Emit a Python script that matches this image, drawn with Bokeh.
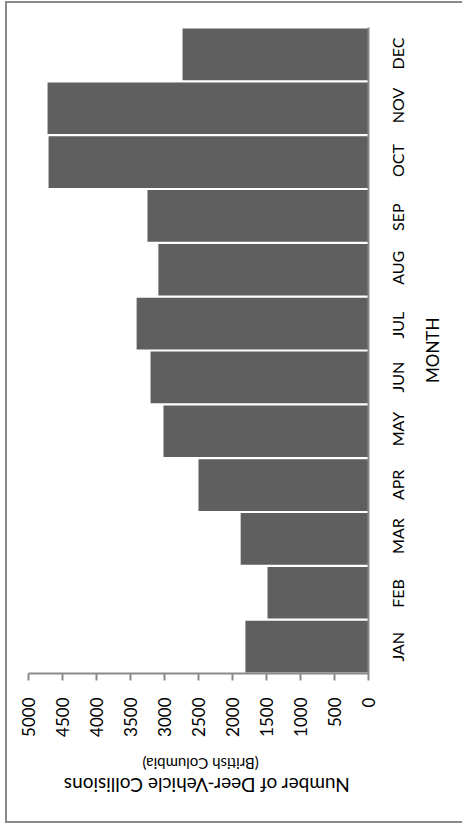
import math
from bokeh.plotting import figure
from bokeh.models import Range1d, FixedTicker, LinearAxis, ColumnDataSource
from bokeh.embed import file_html
from bokeh.resources import INLINE

months = ["JAN", "FEB", "MAR", "APR", "MAY", "JUN", "JUL", "AUG", "SEP", "OCT", "NOV", "DEC"]
collisions = [1810, 1485, 1880, 2500, 3015, 3205, 3410, 3090, 3250, 4705, 4720, 2735]
value_ticks = [0, 500, 1000, 1500, 2000, 2500, 3000, 3500, 4000, 4500, 5000]
value_title = "Number of Deer-Vehicle Collisions"
value_subtitle = "(British Columbia)"
category_title = "MONTH"

FONT = "Lato"
GRAY = "#8a8a8a"

# layout constants (pixels)
FRAME_W, FRAME_H = 340, 646
PX_PER_VALUE = FRAME_W / 5000
PX_PER_MONTH = FRAME_H / len(months)

# month slots 0..12 on the vertical scale, one unit per month
slot = [i + 0.5 for i in range(len(months))]
source = ColumnDataSource(dict(month=months, slot=slot, collisions=collisions))

p = figure(
    width=457, height=822,
    y_range=Range1d(0, len(months)),
    x_range=Range1d(5000, 0),
    output_backend="svg", toolbar_location=None,
    min_border_left=21, min_border_top=24, min_border_right=96, min_border_bottom=152,
)
p.styles = {
    "margin-left": "5px", "margin-top": "1px",
    "border-top": f"2px solid {GRAY}", "border-left": f"2px solid {GRAY}",
    "border-bottom": f"2px solid {GRAY}",
}
p.xaxis.visible = False
p.yaxis.visible = False
p.grid.visible = False
p.outline_line_color = None
p.background_fill_color = "white"
p.border_fill_color = "white"

p.hbar(y="slot", right="collisions", left=0, height=0.96, source=source,
       fill_color="#5f5f5f", line_color=None)

# value axis (bottom), labels read bottom-to-top
vax = LinearAxis(ticker=FixedTicker(ticks=value_ticks))
vax.major_label_orientation = math.pi / 2
vax.major_label_text_font = FONT
vax.major_label_text_font_size = "17px"
vax.major_label_text_color = "black"
vax.major_label_standoff = 17
vax.axis_line_color = GRAY
vax.axis_line_width = 2
vax.major_tick_line_color = GRAY
vax.major_tick_line_width = 2
vax.major_tick_in = 0
vax.major_tick_out = 7
vax.minor_tick_line_color = None
p.add_layout(vax, "below")


def title_axis(text, size, standoff, center_px, est_len):
    # upside-down title: the label starts at its tick and runs to the right
    v = int(round((368 - (center_px - est_len / 2)) / PX_PER_VALUE))
    ax = LinearAxis(ticker=FixedTicker(ticks=[v]), major_label_overrides={v: text})
    ax.major_label_orientation = math.pi
    ax.major_label_text_font = FONT
    ax.major_label_text_font_size = f"{size}px"
    ax.major_label_text_color = "black"
    ax.major_label_standoff = standoff
    ax.axis_line_color = None
    ax.major_tick_line_color = None
    ax.minor_tick_line_color = None
    ax.major_tick_in = 0
    ax.major_tick_out = 0
    return ax


p.add_layout(title_axis(value_subtitle, 15, 24, 200, 7.75 * 15), "below")
p.add_layout(title_axis(value_title, 19, 1, 203, 14.78 * 19), "below")

# month axis (right), labels read bottom-to-top, centred on their bars
half_label = 15 / PX_PER_MONTH
month_ticks = [round(s - half_label, 3) for s in slot]
max_ = LinearAxis(ticker=FixedTicker(ticks=month_ticks),
                  major_label_overrides=dict(zip(month_ticks, months)))
max_.major_label_orientation = math.pi / 2
max_.major_label_text_font = FONT
max_.major_label_text_font_size = "16px"
max_.major_label_text_color = "black"
max_.major_label_standoff = 29
max_.axis_line_color = GRAY
max_.axis_line_width = 2
max_.major_tick_line_color = None
max_.minor_tick_line_color = None
max_.major_tick_in = 0
max_.major_tick_out = 0
p.add_layout(max_, "right")

month_title_tick = round((673 - (350 + 65 / 2)) / PX_PER_MONTH, 3)
tmax = LinearAxis(ticker=FixedTicker(ticks=[month_title_tick]),
                  major_label_overrides={month_title_tick: category_title})
tmax.major_label_orientation = math.pi / 2
tmax.major_label_text_font = FONT
tmax.major_label_text_font_size = "17px"
tmax.major_label_text_color = "black"
tmax.major_label_standoff = 13
tmax.axis_line_color = None
tmax.major_tick_line_color = None
tmax.minor_tick_line_color = None
tmax.major_tick_in = 0
tmax.major_tick_out = 0
p.add_layout(tmax, "right")

open("out.html", "w").write(file_html(p, INLINE))
